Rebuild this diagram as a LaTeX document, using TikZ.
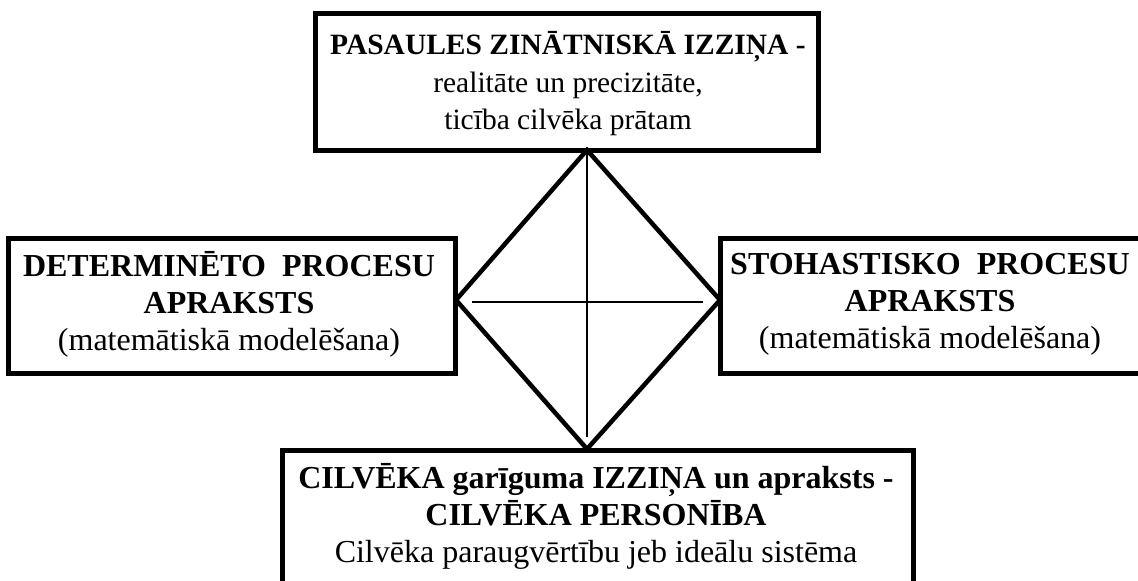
\documentclass[tikz,border=0pt]{standalone}
\usepackage{fontspec}
\setmainfont{Liberation Serif}
\begin{document}
\begin{tikzpicture}[x=1pt,y=-1pt,
  box/.style={draw=black,line width=5pt,fill=white,inner sep=0pt,align=center},
  edge/.style={line width=4.5pt,line join=miter},
  thin/.style={line width=2pt},
  txt/.style={align=center,inner sep=0pt,font=\fontsize{32}{37}\selectfont},
  toptxtstyle/.style={align=center,inner sep=0pt,font=\fontsize{29.5}{37.5}\selectfont}]
\useasboundingbox (0,0) rectangle (1138,581);
\clip (0,0) rectangle (1138,581);
% boxes
\node[box,minimum width=503pt,minimum height=137pt] (top) at (566.5,81.5) {};
\node[box,minimum width=447pt,minimum height=135pt] (left) at (231.5,305.5) {};
\node[box,minimum width=480pt,minimum height=135pt] (right) at (960,305.5) {};
\node[box,minimum width=631pt,minimum height=160pt] (bottom) at (597.5,530) {};
% texts
\node[toptxtstyle] (toptxt) at (568,84) {\textbf{PASAULES ZINĀTNISKĀ IZZIŅA -}\\realitāte un precizitāte,\\ ticība cilvēka prātam};
\node[txt] (lefttxt) at (229,304) {\textbf{DETERMINĒTO\ \ PROCESU}\\\textbf{APRAKSTS}\\(matemātiskā modelēšana)};
\node[txt] (righttxt) at (930,304) {\textbf{STOHASTISKO\ \ PROCESU}\\\textbf{APRAKSTS}\\(matemātiskā modelēšana)};
\node[txt] (bottxt) at (596,516) {\textbf{CILVĒKA garīguma IZZIŅA un apraksts -}\\\textbf{CILVĒKA PERSONĪBA}\\Cilvēka paraugvērtību jeb ideālu sistēma};
% diamond vertices
\coordinate (dt) at (587,150);
\coordinate (dl) at (456,300);
\coordinate (dr) at (720,300);
\coordinate (db) at (587,449);
\draw[edge] (dt) -- (dl) -- (db) -- (dr) -- cycle;
\coordinate (vb) at (587,437);
\coordinate (hl) at (472,302);
\coordinate (hr) at (703,302);
\draw[thin] (dt) -- (vb);
\draw[thin] (hl) -- (hr);
\end{tikzpicture}
\end{document}
